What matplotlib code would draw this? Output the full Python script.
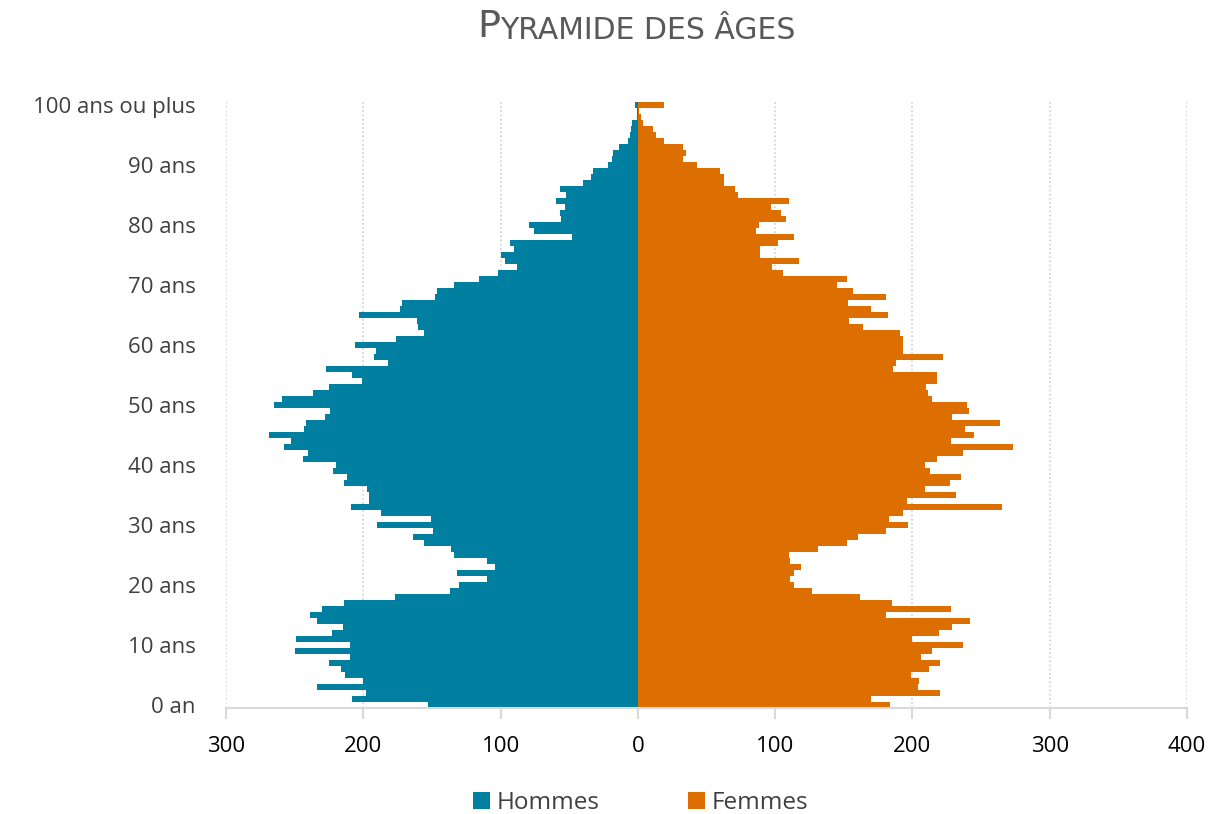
import numpy as np
import matplotlib
matplotlib.use('Agg')
import matplotlib.pyplot as plt

# Age groups 0 .. 100 (last one = 100 ans ou plus)
ages = list(range(101))

hommes = [153, 208, 198, 234, 200, 213, 216, 225, 210, 250,
          210, 249, 223, 215, 234, 239, 230, 214, 177, 137,
          130, 110, 132, 104, 110, 134, 136, 156, 164, 149,
          190, 151, 187, 209, 196, 196, 197, 214, 212, 222,
          220, 244, 240, 258, 253, 269, 243, 242, 228, 224,
          265, 259, 237, 225, 201, 208, 227, 182, 192, 191,
          206, 176, 156, 160, 161, 203, 173, 172, 148, 146,
          134, 116, 102, 88, 97, 100, 90, 93, 48, 76,
          79, 56, 57, 53, 60, 52, 57, 40, 34, 33,
          22, 19, 18, 14, 7, 6, 5, 4, 1, 1,
          2]

femmes = [184, 170, 220, 204, 205, 199, 212, 220, 206, 214,
          237, 200, 219, 229, 242, 181, 228, 185, 162, 127,
          114, 111, 114, 119, 111, 110, 131, 152, 160, 181,
          197, 183, 193, 265, 196, 232, 209, 227, 235, 213,
          209, 218, 237, 273, 228, 245, 238, 264, 229, 241,
          240, 214, 211, 210, 218, 218, 186, 188, 222, 193,
          193, 193, 191, 164, 154, 182, 170, 153, 181, 157,
          145, 152, 106, 98, 117, 89, 89, 102, 114, 86,
          88, 108, 104, 97, 110, 73, 71, 63, 63, 60,
          43, 33, 35, 33, 19, 13, 11, 4, 2, 1,
          19]

y_ticks = [0, 10, 20, 30, 40, 50, 60, 70, 80, 90, 100]
y_labels = ['0 an', '10 ans', '20 ans', '30 ans', '40 ans', '50 ans',
            '60 ans', '70 ans', '80 ans', '90 ans', '100 ans ou plus']
x_ticks = [-300, -200, -100, 0, 100, 200, 300, 400]

blue = '#007fa0'
orange = '#dd6f00'
grey_text = '#404040'

plt.rcParams['font.family'] = ['Open Sans', 'DejaVu Sans']

fig = plt.figure(figsize=(12.25, 8.14), dpi=100)
ax = fig.add_axes([0.1845, 0.1302, 0.7845, 0.7445])

ax.barh(ages, [-v for v in hommes], height=1.0, color=blue, label='Hommes', zorder=2)
ax.barh(ages, femmes, height=1.0, color=orange, label='Femmes', zorder=2)

ax.set_xlim(-300, 400)
ax.set_ylim(-0.5, 100.5)

ax.set_xticks(x_ticks)
ax.set_xticklabels([str(abs(v)) for v in x_ticks], fontsize=16, color='black')
ax.set_yticks(y_ticks)
ax.set_yticklabels(y_labels, fontsize=16, color=grey_text)

ax.xaxis.grid(True, linestyle=(0, (1, 1.5)), color='#d0d0d0', linewidth=1.2, zorder=0)
ax.set_axisbelow(True)

for s in ['top', 'right', 'left']:
    ax.spines[s].set_visible(False)
ax.spines['bottom'].set_color('#d9d9d9')
ax.spines['bottom'].set_linewidth(1.5)
ax.tick_params(axis='x', length=8, width=1.5, color='#d9d9d9', pad=12)
ax.tick_params(axis='y', length=0, pad=22)

# Title in small caps style
t1 = fig.text(0.377, 0.954, 'P', fontsize=27.5, color='#595959',
              family='DejaVu Sans', ha='left', va='baseline')
t2 = ax.annotate('YRAMIDE DES ÂGES', xy=(1, 0), xycoords=t1, fontsize=21.5,
                 color='#595959', family='DejaVu Sans', ha='left', va='bottom')

# centre the two-part title on the figure
renderer = fig.canvas.get_renderer()
b1 = t1.get_window_extent(renderer)
b2 = t2.get_window_extent(renderer)
total = b1.width + b2.width
t1.set_x((636 - total / 2) / 1225)

leg = fig.legend(loc='lower center', bbox_to_anchor=(0.523, -0.028), ncol=2,
                 frameon=False, fontsize=17.5, handlelength=0.7, handleheight=0.7,
                 columnspacing=3.6, handletextpad=0.3)
for txt in leg.get_texts():
    txt.set_color(grey_text)

fig.savefig('out.png', dpi=100)
